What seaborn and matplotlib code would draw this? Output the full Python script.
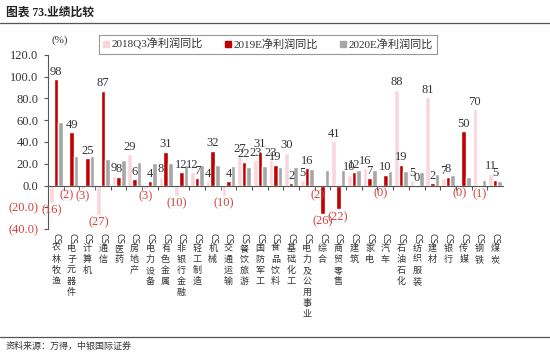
"""
业绩比较：各行业净利润同比（2018Q3 / 2019E / 2020E）
"""
import matplotlib
matplotlib.use("Agg")
import matplotlib.pyplot as plt
import matplotlib.transforms as mtransforms
import numpy as np
import pandas as pd
import seaborn as sns

# 数据
categories = ["农林牧渔", "电子元器件", "计算机", "通信", "医药", "房地产", "电力设备",
              "有色金属", "非银行金融", "轻工制造", "机械", "交通运输", "餐饮旅游",
              "国防军工", "食品饮料", "基础化工", "电力及公用事业", "综合", "商贸零售",
              "建筑", "家电", "汽车", "石油石化", "纺织服装", "建材", "银行", "传媒",
              "钢铁", "煤炭"]
q3_2018 = [-16, -2, -3, -27, 9, 29, -3, 8, -10, 12, 4, -10, 27, 23, 23, 30, 5, -2,
           41, 10, 16, -0.3, 88, 5, 81, 7, -0.4, 70, 11]
e_2019 = [98, 49, 25, 87, 8, 6, 4, 31, 12, 7, 32, 4, 22, 31, 19, 2, 16, -26, -22,
          12, 7, 10, 19, 0.3, 2, 8, 50, -1, 5]
e_2020 = [58, 27, 27, 24, 23, 22, 21, 21, 19, 19, 19, 18, 17, 18, 17, 17, 15, 14,
          14, 14, 14, 13, 13, 12, 11, 10, 8, 5.5, 4.5]
series_names = ["2018Q3净利润同比", "2019E净利润同比", "2020E净利润同比"]
colors = ["#F9D6DA", "#C00000", "#A6A6A6"]
y_ticks = [-40, -20, 0, 20, 40, 60, 80, 100, 120]

neg_color = "#D2423F"
txt_color = "#333333"


def fmt_val(v, digits=0):
    s = f"{abs(v):.{digits}f}"
    return f"({s})" if v < 0 else s


def main():
    wide = pd.DataFrame({"行业": categories,
                         series_names[0]: q3_2018,
                         series_names[1]: e_2019,
                         series_names[2]: e_2020})
    df = wide.melt(id_vars="行业", var_name="指标", value_name="值")

    sns.set_style("white")
    plt.rcParams["font.family"] = ["Liberation Serif", "Noto Sans CJK SC", "DejaVu Sans"]
    plt.rcParams["axes.unicode_minus"] = False

    fig = plt.figure(figsize=(5.5, 3.57), dpi=100)
    ax = fig.add_axes([0.0873, 0.3585, 0.8272, 0.4875])

    sns.barplot(data=df, x="行业", y="值", hue="指标", hue_order=series_names,
                palette=colors, saturation=1, width=0.88, ax=ax, errorbar=None)

    # 数据标签：只标注 2018Q3 和 2019E
    for cont, vals in zip(ax.containers[:2], [q3_2018, e_2019]):
        texts = ax.bar_label(cont, labels=[fmt_val(v) for v in vals],
                             padding=1, fontsize=9)
        for t, v in zip(texts, vals):
            t.set_color(neg_color if v < 0 else txt_color)

    # 坐标轴
    ax.set_ylim(-40, 120)
    ax.set_xlim(-0.5, len(categories) - 0.5)
    ax.set_yticks(y_ticks)
    ax.set_yticklabels([fmt_val(t, 1) for t in y_ticks], fontsize=9)
    for lab, t in zip(ax.get_yticklabels(), y_ticks):
        lab.set_color(neg_color if t < 0 else txt_color)
    ax.tick_params(axis="y", length=3, width=0.8, color="#555555", pad=4, left=True)

    for s in ["top", "right"]:
        ax.spines[s].set_visible(False)
    ax.spines["left"].set_color("#555555")
    ax.spines["left"].set_linewidth(0.8)
    ax.spines["bottom"].set_position(("data", 0))
    ax.spines["bottom"].set_color("#555555")
    ax.spines["bottom"].set_linewidth(0.8)

    xpos = np.asarray(ax.get_xticks(), dtype=float)
    ax.set_xticks(xpos[:-1] + 0.5, minor=True)
    ax.tick_params(axis="x", which="major", length=0, labelbottom=False)
    ax.tick_params(axis="x", which="minor", length=3, width=0.8, color="#555555",
                   direction="out", bottom=True)
    ax.set_xlabel("")
    ax.set_ylabel("")

    # 竖排行业名称（带 CS 前缀）
    trans = mtransforms.blended_transform_factory(ax.transData, ax.transAxes)
    for x, name in zip(xpos, categories):
        ax.text(x, -0.022, "CS", transform=trans, rotation=-90, ha="center", va="top",
                fontsize=6, color=txt_color, family=["DejaVu Sans"])
        ax.text(x, -0.085, "\n".join(name), transform=trans, ha="center", va="top",
                fontsize=6.5, linespacing=1.28, color=txt_color,
                family=["Noto Sans CJK SC"])

    # 图例
    ax.get_legend().remove()
    handles = [plt.Rectangle((0, 0), 1, 1, color=c) for c in colors]
    leg = fig.legend(handles, series_names, loc="center", bbox_to_anchor=(0.487, 0.876),
                     ncol=3, fontsize=8, frameon=True, fancybox=False,
                     handlelength=0.55, handleheight=0.55, handletextpad=0.2,
                     columnspacing=2.0, borderpad=0.35, borderaxespad=0)
    leg.get_frame().set_edgecolor("#7F7F7F")
    leg.get_frame().set_linewidth(0.8)
    for t in leg.get_texts():
        t.set_color(txt_color)

    # 标题、单位、来源
    fig.text(0.01, 1 - 12.5 / 357, "图表 73.业绩比较", fontsize=8.5, fontweight="bold",
             va="center", ha="left", color="#222222")
    fig.add_artist(plt.Line2D([0, 1], [1 - 22.5 / 357] * 2, color="#555555", lw=0.9))
    fig.text(60 / 550, 1 - 40 / 357, "(%)", fontsize=8, ha="center", va="center",
             color=txt_color)
    fig.add_artist(plt.Line2D([0, 1], [1 - 336.5 / 357] * 2, color="#555555", lw=0.9))
    fig.text(0.01, 1 - 346 / 357, "资料来源：万得，中银国际证券", fontsize=6.5,
             va="center", ha="left", color="#333333", style="italic")

    fig.savefig("out.png", dpi=100)


if __name__ == "__main__":
    main()
